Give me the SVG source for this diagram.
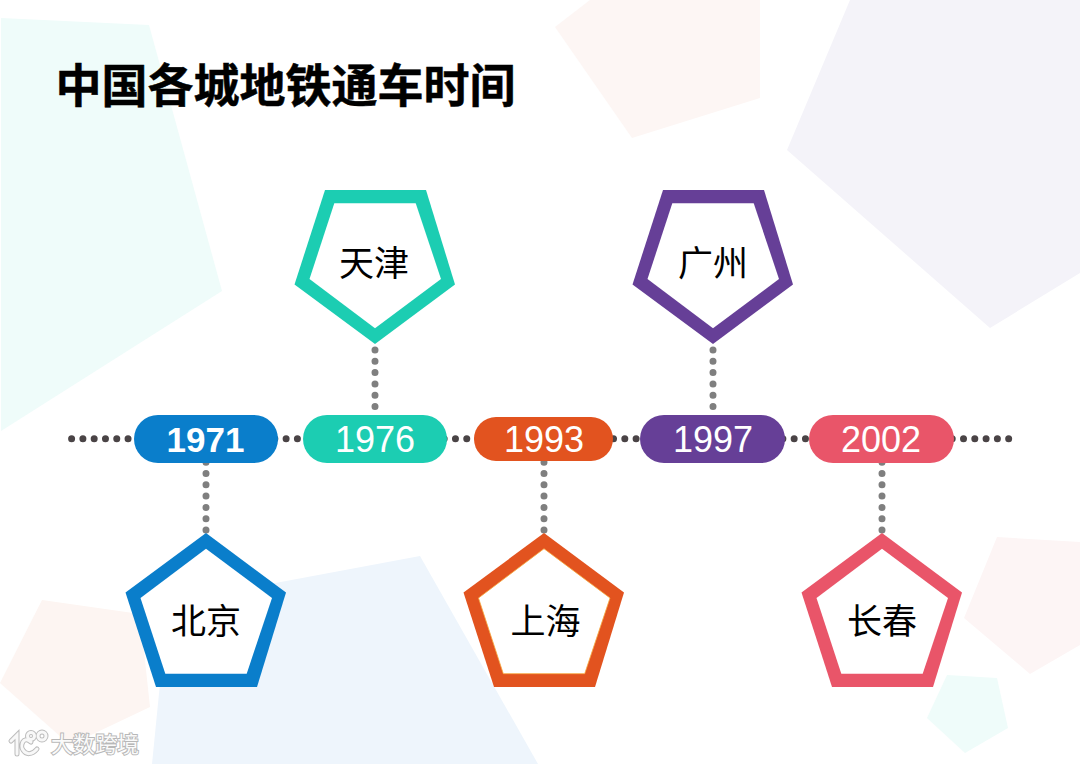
<svg xmlns="http://www.w3.org/2000/svg" width="1080" height="764" viewBox="0 0 1080 764">
<style>
.cn{font-family:"Noto Sans CJK SC","Liberation Sans",sans-serif;font-size:35px;fill:#000;text-anchor:middle}
.yr{font-family:"Liberation Sans",Arial,sans-serif;font-size:36px;fill:#fff;text-anchor:middle}
.in{fill:#fff}
.h{fill:none;stroke:#4a4446;stroke-width:7;stroke-linecap:round;stroke-dasharray:0 11.29}
.v{fill:none;stroke:#7f7f7f;stroke-width:7;stroke-linecap:round;stroke-dasharray:0 11.3}
.wm{fill:none;stroke:#f8f8f8;stroke-width:3;stroke-linecap:round}
.wms{fill:none;stroke:#bcbcbc;stroke-width:5;stroke-linecap:round}
</style>
<defs>
<polygon id="po" points="0,0 80,59.5 51,154 -50,154 -80.5,59.5"/>
<polygon id="pi" points="0,15.7 66,65 40.7,140.7 -40.7,140.7 -65.5,65"/>
</defs>
<rect width="1080" height="764" fill="#fff"/>
<g id="background">
<polygon points="1,18 149,25 222,291 1,431" fill="#effcfa"/>
<polygon points="555,27 590,0 760,0 760,98 632,138" fill="#fdf6f4"/>
<polygon points="850,0 1080,0 1080,273 990,328 787,150" fill="#f4f3f9"/>
<polygon points="42,600 140,614 150,707 70,745 0,683" fill="#fdf5f2"/>
<polygon points="168,603 420,556 538,764 152,764" fill="#eef5fc"/>
<polygon points="997,537 1080,542 1080,645 1030,674 964,618" fill="#fdf5f5"/>
<polygon points="947,675 997,678 1008,728 965,753 927,718" fill="#effcfa"/>
</g>
<g id="watermark">
<path class="wms" d="M11 741 L17 735 V754 M31 742 C23 735 20 746 23 750 C26 755 32 755 37 749"/>
<circle class="wms" cx="31" cy="736" r="3.5"/><circle class="wms" cx="42" cy="736" r="4"/>
<path class="wm" d="M11 741 L17 735 V754 M31 742 C23 735 20 746 23 750 C26 755 32 755 37 749"/>
<circle class="wm" cx="31" cy="736" r="3.5"/><circle class="wm" cx="42" cy="736" r="4"/>
<text x="51" y="752" font-family="'Noto Sans CJK SC','Liberation Sans',sans-serif" font-size="22" fill="#fafafa" stroke="#b8b8b8" stroke-width="2" paint-order="stroke">大数跨境</text>
</g>
<text id="title" x="55.5" y="102" font-family="'Noto Sans CJK SC','Liberation Sans',sans-serif" font-size="46" font-weight="700" fill="#000" stroke="#000" stroke-width="0.5">中国各城地铁通车时间</text>
<g id="connectors">
<line class="h" x1="71.6" y1="438.7" x2="1009" y2="438.7"/>
<line class="v" x1="206" y1="530" x2="206" y2="462"/>
<line class="v" x1="375" y1="350" x2="375" y2="416"/>
<line class="v" x1="544" y1="530" x2="544" y2="462"/>
<line class="v" x1="713" y1="350" x2="713" y2="416"/>
<line class="v" x1="882" y1="530" x2="882" y2="462"/>
</g>
<g id="beijing"><g transform="translate(206,533)"><use href="#po" fill="#0a7ecb"/><use href="#pi" class="in"/></g><text class="cn" x="206" y="634">北京</text></g>
<g id="tianjin"><g transform="translate(375,344) scale(1,-1)"><use href="#po" fill="#1ccdb2"/><use href="#pi" class="in"/></g><text class="cn" x="374" y="276">天津</text></g>
<g id="shanghai"><g transform="translate(544,533)"><use href="#po" fill="#e2531f"/><use href="#pi" class="in" stroke="#f6a83c" stroke-width="0.8"/></g><text class="cn" x="545.5" y="634">上海</text></g>
<g id="guangzhou"><g transform="translate(713,344) scale(1,-1)"><use href="#po" fill="#663f97"/><use href="#pi" class="in"/></g><text class="cn" x="713" y="276">广州</text></g>
<g id="changchun"><g transform="translate(882,533)"><use href="#po" fill="#e95569"/><use href="#pi" class="in"/></g><text class="cn" x="882" y="634">长春</text></g>
<g id="y1971"><rect x="134" y="415" width="144" height="48" rx="24" fill="#0a7ecb"/><text class="yr" x="205.5" y="452" style="font-size:35px" font-weight="700">1971</text></g>
<g id="y1976"><rect x="303" y="415" width="144" height="48" rx="24" fill="#1ccdb2"/><text class="yr" x="375" y="452">1976</text></g>
<g id="y1993"><rect x="474" y="417" width="139" height="44" rx="22" fill="#e2531f"/><text class="yr" x="544" y="452">1993</text></g>
<g id="y1997"><rect x="640" y="415" width="145" height="48" rx="24" fill="#663f97"/><text class="yr" x="713" y="452">1997</text></g>
<g id="y2002"><rect x="809" y="415" width="145" height="48" rx="24" fill="#e95569"/><text class="yr" x="881" y="452">2002</text></g>
</svg>
